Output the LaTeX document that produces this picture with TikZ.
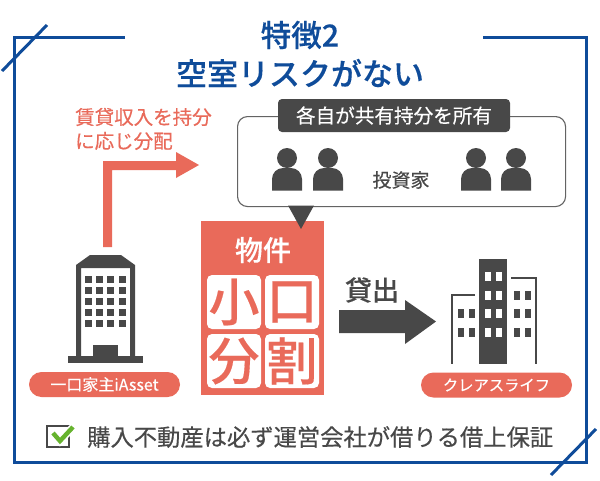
\documentclass[tikz,border=0pt]{standalone}
\usepackage{fontspec}
\setmainfont[FakeBold=0.35]{Noto Sans CJK JP}
\newfontfamily\cjkbold{Noto Sans CJK JP Medium}[FakeBold=0.3]
\definecolor{navy}{HTML}{0F4C9A}
\definecolor{salmon}{HTML}{E96A5A}
\definecolor{ink}{HTML}{484848}
\definecolor{tick}{HTML}{66B32E}
\newcommand{\fs}[1]{\fontsize{#1}{#1}\selectfont}
\tikzset{
  frame/.style={draw=navy,line width=3pt},
  txt/.style={inner sep=0pt,align=center},
  pill/.style={fill=salmon,rounded corners=12.5pt},
  tile/.style={fill=white,rounded corners=5pt},
  tilechar/.style={txt,text=salmon,font=\cjkbold\fs{51}},
  person/.style={fill=ink},
  dark/.style={fill=ink},
  win/.style={fill=ink},
}
\begin{document}
\begin{tikzpicture}[x=1pt,y=-1pt]
\useasboundingbox[fill=white] (0,0) rectangle (600,480);
% frame
\draw[frame] (125,37) -- (14,37) -- (14,462) -- (586,462) -- (586,37) -- (483,37);
\draw[frame] (2,71) -- (47,25);
\draw[frame] (551,475) -- (596,429);
% title
\node[txt,text=navy,font=\cjkbold\fs{30.5}] (t1) at (300,35) {特徴2};
\node[txt,text=navy,font=\cjkbold\fs{31}] (t2) at (300,73) {空室リスクがない};
% red label
\node[txt,text=salmon,font=\fs{19.5},anchor=west] (l1) at (75,117) {賃貸収入を持分};
\node[txt,text=salmon,font=\fs{19.5},anchor=west] (l2) at (75,141) {に応じ分配};
% red arrow
\fill[salmon] (103,247) -- (103,161) -- (176,161) -- (176,152) -- (199,165) -- (176,178) -- (176,170) -- (112,170) -- (112,247) -- cycle;
% investors
\node[draw=ink!85,line width=1.1pt,rounded corners=10pt,minimum width=328pt,minimum height=90pt,anchor=north west,inner sep=0pt] (inv) at (237,116) {};
\node[dark,rounded corners=4pt,minimum width=232pt,minimum height=33pt,inner sep=0pt,text=white,font=\fs{19.6}] (own) at (394,115.5) {各自が共有持分を所有};
\foreach \n/\x in {a/287,b/328,c/476,d/516}{
  \fill[person] (\x,158) circle (10);
  \fill[person] (\x-15,190.5) -- (\x-15,179) arc[start angle=180,end angle=270,radius=11] -- (\x+4,168) arc[start angle=270,end angle=360,radius=11] -- (\x+15,190.5) -- cycle;
}
\node[txt,text=ink,font=\fs{19}] (invl) at (401,180) {投資家};
% property
\node[fill=salmon,minimum width=123pt,minimum height=174pt,anchor=north west,inner sep=0pt] (prop) at (201,221) {};
\fill[ink] (288,205.5) -- (314,205.5) -- (301,229) -- cycle;
\node[txt,text=white,font=\cjkbold\fs{28}] (pl) at (263,250) {物件};
\foreach \n/\x/\y/\c in {p/207/275/小,q/265/275/口,r/207/334/分,s/265/334/割}{
  \fill[tile] (\x,\y) rectangle ++(54,54);
  \node[tilechar] (\n) at (\x+27,\y+27) {\c};
}
% left building
\fill[ink] (76,356) -- (76,265) -- (90,255) -- (121,255) -- (135,265) -- (135,356) -- (130,356) -- (130,268) -- (81,268) -- (81,356) -- cycle;
\foreach \y in {276,287,298,309,320}{
  \foreach \x in {85,96,107,119}{\fill[win] (\x,\y) rectangle ++(7,7);}
}
\fill[ink] (93,345) rectangle (118,357);
\fill[ink] (68,356) rectangle (143,363);
\node[pill,minimum width=151pt,minimum height=25pt,inner sep=0pt,text=white,font=\fs{16}] (ia) at (104.5,384.5) {一口家主iAsset};
% lending arrow
\fill[ink] (339,310) -- (405,310) -- (405,300) -- (436,321.5) -- (405,344) -- (405,333) -- (339,333) -- cycle;
\node[txt,text=ink,font=\cjkbold\fs{27}] (len) at (372,290) {貸出};
% right buildings
\fill[ink] (479,259) rectangle (507,364);
\foreach \y in {272,291,309,328}{
  \foreach \x in {485,496}{\fill[white] (\x,\y) rectangle ++(6,9);}
}
\draw[ink,line width=2pt] (511,278) -- (536,278) -- (536,364);
\draw[ink,line width=2pt] (475,295) -- (452,295) -- (452,364);
\foreach \y in {291,309,328}{
  \foreach \x in {514,525}{\fill[win] (\x,\y) rectangle ++(5.5,9);}
}
\foreach \y in {309,328}{
  \foreach \x in {458,469}{\fill[win] (\x,\y) rectangle ++(5.5,9);}
}
\node[pill,minimum width=151pt,minimum height=25pt,inner sep=0pt,text=white,font=\fs{15.3}] (cl) at (496.5,385) {クレアスライフ};
% check line
\draw[ink,line width=2.6pt] (47,426) rectangle (69,447);
\draw[white,line width=7.5pt] (53,433) -- (60,441) -- (74,426);
\draw[tick,line width=4.4pt] (53,433) -- (60,441) -- (73,427);
\node[txt,text=ink,font=\fs{23.3},anchor=west] (chk) at (87,437) {購入不動産は必ず運営会社が借りる借上保証};
\end{tikzpicture}
\end{document}
